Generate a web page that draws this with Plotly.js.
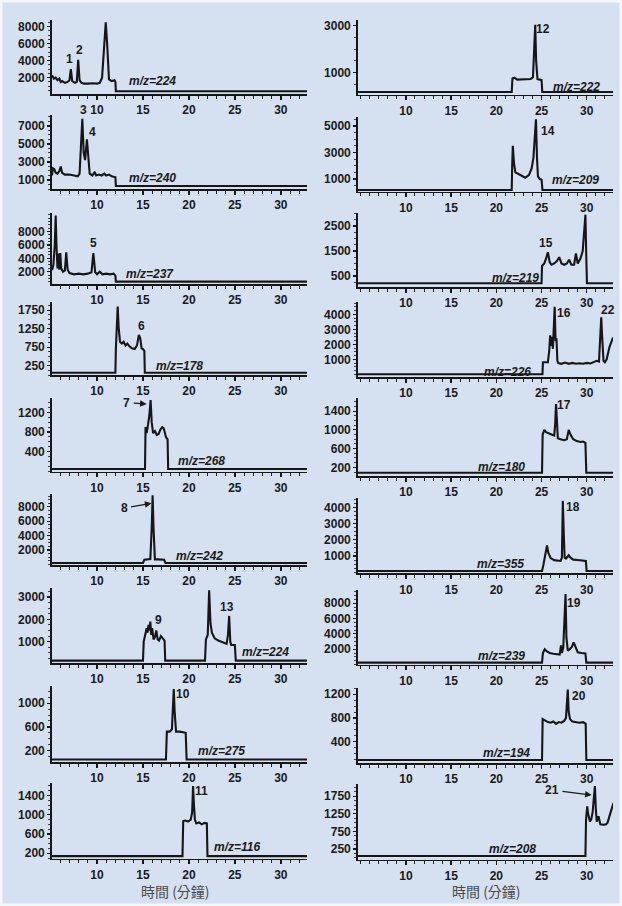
<!DOCTYPE html>
<html><head><meta charset="utf-8">
<script src="https://cdn.plot.ly/plotly-3.0.1.min.js"></script>
<style>html,body{margin:0;padding:0;background:#ffffff;} #chart{width:622px;height:906px;}</style>
</head><body><div id="chart"></div>
<script>
// ---------- data (retention time in minutes, abundance) ----------
const mzLabels = ["m/z=224","m/z=240","m/z=237","m/z=178","m/z=268","m/z=242","m/z=224","m/z=275","m/z=116",
                  "m/z=222","m/z=209","m/z=219","m/z=226","m/z=180","m/z=355","m/z=239","m/z=194","m/z=208"];
const xTickVals = [10,15,20,25,30];

const x_L1 = [5.1,5.3,5.5,5.7,5.9,6.05,6.2,6.5,6.8,7.0,7.15,7.3,7.6,7.8,7.95,8.1,8.3,8.6,9.0,9.5,10.0,10.3,10.55,10.8,10.95,11.1,11.3,11.6,11.9,12.0,12.05,32.85];
const y_L1 = [2300,1900,2000,1700,1900,1500,1600,1400,1500,1700,3000,1600,1400,1500,4100,1700,1400,1300,1300,1350,1300,1400,2000,5500,8500,6000,1800,1600,1700,1500,400,400];

const x_L2 = [5.1,5.2,5.35,5.5,5.7,5.9,6.05,6.2,6.5,7.0,7.5,7.9,8.1,8.25,8.4,8.55,8.7,8.9,9.05,9.2,9.5,9.75,9.9,10.2,10.5,10.8,11.0,11.3,11.6,12.0,12.05,32.85];
const y_L2 = [1500,2300,2200,1800,1700,2000,2500,1800,1600,1600,1500,1400,1700,5000,7800,4000,3200,5500,3500,1700,1500,1900,1500,1600,1500,1700,1500,1600,1400,1300,330,330];

const x_L3 = [5.1,5.25,5.4,5.5,5.6,5.7,5.8,5.9,6.0,6.1,6.3,6.5,6.65,6.8,7.0,7.5,8.0,8.5,9.0,9.4,9.6,9.8,10.0,10.3,10.6,11.0,11.4,11.8,12.0,12.05,32.85];
const y_L3 = [2200,3000,6000,10400,5500,2500,4700,2300,4800,2500,2000,2200,4900,2300,1800,1600,1700,1600,1700,1900,4800,1900,1600,2000,1600,1700,1600,1700,1400,500,500];

const x_L4 = [5.1,12.0,12.05,12.15,12.25,12.35,12.5,12.7,12.9,13.1,13.3,13.5,13.8,14.1,14.35,14.55,14.7,14.85,15.0,15.15,15.2,32.85];
const y_L4 = [60,60,700,1500,1850,1300,900,850,900,800,850,780,720,700,800,1080,1000,720,700,650,60,60];

const x_L5 = [5.1,15.22,15.28,15.4,15.55,15.7,15.83,15.95,16.1,16.3,16.5,16.7,16.9,17.1,17.25,17.5,17.68,17.74,32.85];
const y_L5 = [50,50,900,780,950,1150,1450,1000,780,820,740,760,850,900,880,700,650,50,50];

const x_L6 = [5.1,15.0,15.15,15.5,15.8,15.95,16.05,16.15,16.3,16.6,17.0,17.3,17.45,32.85];
const y_L6 = [200,200,650,700,750,5000,9600,5000,700,700,700,650,200,200];

const x_L7 = [5.1,15.0,15.08,15.25,15.4,15.5,15.6,15.7,15.8,15.9,16.0,16.15,16.3,16.45,16.6,16.75,16.95,17.15,17.35,17.42,21.75,21.85,22.05,22.2,22.35,22.5,22.8,23.2,23.7,24.1,24.25,24.38,24.5,24.6,25.0,25.1,32.85];
const y_L7 = [150,150,1000,1300,1600,1400,1750,1500,1900,1300,1600,1100,1200,1500,1100,1050,1250,1150,1050,150,150,1100,1300,3300,1800,1400,1150,1050,950,900,1300,2150,1000,850,850,150,150];

const x_L8 = [5.1,17.5,17.6,17.9,18.15,18.25,18.35,18.45,18.6,19.0,19.5,19.65,19.75,32.85];
const y_L8 = [50,50,520,520,560,900,1240,850,520,520,510,500,50,50];

const x_L9 = [5.1,19.3,19.38,19.6,19.9,20.2,20.35,20.45,20.55,20.65,20.8,21.1,21.4,21.7,21.95,22.02,32.85];
const y_L9 = [140,140,870,880,860,900,1050,1600,1200,900,820,840,800,830,820,140,140];

const x_R1 = [4.7,21.7,21.78,22.0,22.3,22.8,23.3,23.8,24.05,24.2,24.3,24.4,24.55,24.8,25.0,25.08,32.9];
const y_R1 = [170,170,750,780,700,720,710,730,800,2000,3050,1500,720,700,680,170,170];

const x_R2 = [4.7,21.7,21.75,21.82,21.95,22.1,22.4,22.8,23.2,23.6,23.9,24.1,24.25,24.38,24.5,24.6,24.8,25.0,25.1,32.9];
const y_R2 = [170,170,2000,3500,2200,1500,1400,1250,1100,1300,1800,2600,4500,5500,2500,1200,1000,950,170,170];

const x_R3 = [4.7,25.0,25.05,25.3,25.5,25.7,25.9,26.1,26.4,26.7,26.95,27.2,27.5,27.8,28.05,28.3,28.6,28.8,29.0,29.3,29.55,29.75,29.85,29.95,30.02,32.9];
const y_R3 = [210,210,900,1000,1200,1450,1050,950,1000,1100,1250,1000,950,1000,1150,950,950,1400,1000,1200,1500,2500,2950,1200,210,210];

const x_R4 = [4.7,25.1,25.15,25.4,25.7,25.85,25.95,26.05,26.15,26.25,26.35,26.45,26.55,26.65,26.75,26.85,27.2,27.6,28.0,28.4,28.8,29.2,29.6,30.0,30.4,30.8,31.1,31.35,31.5,31.6,31.7,31.85,32.0,32.2,32.5,32.75,32.9];
const y_R4 = [0,0,800,820,800,1600,2600,1900,2500,1700,3500,4500,2200,2400,900,750,700,780,700,760,700,740,700,760,720,800,900,850,2500,3800,2500,900,800,1000,1800,2300,2450];

const x_R5 = [4.7,25.05,25.12,25.3,25.5,25.8,26.1,26.4,26.5,26.6,26.68,26.8,27.1,27.5,27.8,28.0,28.2,28.5,28.9,29.3,29.6,29.85,29.95,32.9];
const y_R5 = [85,85,900,1000,950,920,900,880,1100,1550,1050,820,800,780,800,1000,900,800,760,740,750,720,85,85];

const x_R6 = [4.7,25.05,25.2,25.35,25.5,25.6,25.75,26.0,26.4,26.8,27.1,27.25,27.35,27.45,27.55,27.7,28.0,28.2,28.5,29.0,29.5,29.9,29.98,32.9];
const y_R6 = [80,80,450,900,1500,1650,1200,880,750,700,700,900,4400,2500,900,850,1050,900,780,760,740,700,80,80];

const x_R7 = [4.7,25.05,25.15,25.35,25.6,25.9,26.3,26.7,27.0,27.15,27.25,27.4,27.55,27.65,27.75,27.9,28.1,28.35,28.55,28.75,29.0,29.4,29.85,29.95,32.9];
const y_R7 = [250,250,1500,2000,1700,1500,1400,1350,1300,2500,1500,2200,6000,9200,3500,1800,2000,2300,2900,2200,1600,1500,1450,250,250];

const x_R8 = [4.7,25.05,25.12,25.4,25.7,26.0,26.3,26.6,26.9,27.2,27.5,27.7,27.8,27.9,28.0,28.15,28.4,28.8,29.2,29.6,29.88,29.95,32.9];
const y_R8 = [90,90,780,750,730,720,740,700,730,720,750,800,1000,1280,900,780,740,730,720,730,700,90,90];

const x_R9 = [4.7,29.85,29.92,30.05,30.15,30.35,30.5,30.65,30.78,30.9,31.0,31.1,31.3,31.5,31.8,32.1,32.3,32.5,32.7,32.95];
const y_R9 = [50,50,1100,1460,1250,1030,1100,1300,1700,2040,1400,1030,1180,950,940,950,1000,1150,1350,1560];

const yTicks = [[2000,4000,6000,8000],[1000,3000,5000,7000],[2000,4000,6000,8000],[250,750,1250,1750],[400,800,1200],
                [2000,4000,6000,8000],[1000,2000,3000],[200,600,1000],[200,600,1000,1400],
                [1000,3000],[1000,3000,5000],[500,1500,2500],[1000,2000,3000,4000],[200,600,1000,1400],
                [1000,2000,3000,4000],[2000,4000,6000,8000],[400,800,1200],[250,750,1250,1750]];

const peakLabels = ["1","2","3","4","5","6","7","8","9","13","10","11","12","14","15","16","22","17","18","19","20","21"];

// ---------- layout geometry (pixels) ----------
const W = 622, H = 906;
const series = [[x_L1,y_L1],[x_L2,y_L2],[x_L3,y_L3],[x_L4,y_L4],[x_L5,y_L5],[x_L6,y_L6],[x_L7,y_L7],[x_L8,y_L8],[x_L9,y_L9],
                [x_R1,y_R1],[x_R2,y_R2],[x_R3,y_R3],[x_R4,y_R4],[x_R5,y_R5],[x_R6,y_R6],[x_R7,y_R7],[x_R8,y_R8],[x_R9,y_R9]];
// [axisPx, topPx, lo, hi]
const geom = [[94,20,80,8785],[189,115,0,8214],[284,213.3,150,10750],[375,301.7,0,1980],[471.5,398,0,1490],
              [565,494.3,-80,9750],[663,588,45,3400],[762,686,8,1290],[858.5,783.3,90,1655],
              [94.5,20,64,3250],[191.5,116.7,60,5700],[287,212.7,60,3030],[377,301.7,-180,4840],[476,398,15,1680],
              [573.3,498.3,-60,4560],[664.5,590,0,9730],[763,687.7,40,1310],[859.5,784,-50,2100]];
const mzPos = [[152,81],[152,177.7],[150,274],[179,365.7],[201.7,460.7],[199.3,555.7],[265.7,651.7],[221.7,750.7],[237.3,847.3],
               [576.7,87.3],[575.3,180],[515,278.3],[507.7,371.7],[501.7,466.7],[500,564],[501.7,656],[506,753.3],[512.7,849]];
const peakPos = [[69,59],[79,50],[83,110],[92,131.7],[93.7,243.3],[141,326],[126.7,402.7],[124,508],[158,620],[226.7,607.3],
                 [182.7,694],[201,790.7],[543.3,29],[547.7,130.7],[546,243.3],[563.7,313.3],[607.7,310],[564.3,405],
                 [572.7,507.3],[574.3,603.3],[579.3,695.7],[552,790]];
// arrows: label index -> head px
const arrowHeads = {6:[146.7,404], 7:[151.5,503.3], 21:[591.7,795]};

const FONT = "Liberation Sans, Arial, sans-serif";
const ink = "#161616";
const px2x = p => p / W, py2y = p => 1 - p / H;

const data = [];
const layout = {
  width: W, height: H, margin: {l:0, r:0, t:0, b:0},
  paper_bgcolor: "#d5e0f1", plot_bgcolor: "rgba(0,0,0,0)", showlegend: false,
  annotations: [], shapes: [
    {type:"rect", xref:"paper", yref:"paper", x0:0, x1:1, y0:0, y1:1, line:{color:"#f4f7fb", width:5}}
  ]
};

series.forEach((s, i) => {
  const n = i + 1, sfx = n === 1 ? "" : String(n);
  const right = i >= 9;
  const g = geom[i];
  data.push({x: s[0], y: s[1], xaxis: "x" + sfx, yaxis: "y" + sfx, type: "scatter", mode: "lines",
             line: {color: ink, width: 2.1}, hoverinfo: "skip"});
  layout["xaxis" + sfx] = {
    domain: right ? [358 / W, 613 / W] : [52 / W, 307 / W],
    range: right ? [4.7, 32.9] : [5.1, 32.85],
    anchor: "y" + sfx, showgrid: false, zeroline: false,
    showline: true, linecolor: ink, linewidth: 1.8,
    ticks: "outside", ticklen: 4, tickwidth: 1.4, tickcolor: ink,
    tickmode: "array", tickvals: xTickVals, ticktext: xTickVals.map(String),
    minor: {tickmode: "linear", tick0: 0, dtick: 1, ticks: "outside", ticklen: 3, tickwidth: 1, tickcolor: ink},
    tickfont: {family: FONT, size: 12, color: "#1a1a1a", weight: "bold"}, fixedrange: true
  };
  const yt = yTicks[i];
  const step = yt.length > 1 ? (yt[1] - yt[0]) : 1000;
  layout["yaxis" + sfx] = {
    domain: [py2y(g[0]), py2y(g[1])], range: [g[2], g[3]],
    anchor: "x" + sfx, showgrid: false, zeroline: false,
    showline: true, linecolor: ink, linewidth: 1.8,
    ticks: "outside", ticklen: 3, tickwidth: 1.2, tickcolor: ink,
    tickmode: "array", tickvals: yt, ticktext: yt.map(String),
    minor: {tickmode: "linear", tick0: 0, dtick: step / 4, ticks: "outside", ticklen: 2, tickwidth: 0.8, tickcolor: ink},
    tickfont: {family: FONT, size: 12, color: "#1a1a1a", weight: "bold"}, fixedrange: true
  };
  layout.annotations.push({xref: "paper", yref: "paper", x: px2x(mzPos[i][0]), y: py2y(mzPos[i][1]),
    text: "<b><i>" + mzLabels[i] + "</i></b>", showarrow: false, xanchor: "center", yanchor: "middle",
    font: {family: FONT, size: 12, color: "#1a1a1a"}});
});

peakLabels.forEach((t, k) => {
  const p = peakPos[k];
  const a = {xref: "paper", yref: "paper", text: "<b>" + t + "</b>", xanchor: "center", yanchor: "middle",
             font: {family: FONT, size: 12, color: "#1a1a1a"}};
  if (arrowHeads[k]) {
    const h = arrowHeads[k];
    Object.assign(a, {x: px2x(h[0]), y: py2y(h[1]), showarrow: true, axref: "pixel", ayref: "pixel",
      ax: p[0] - h[0], ay: p[1] - h[1], arrowhead: 2, arrowsize: 1.1, arrowwidth: 1.2, arrowcolor: "#1a1a1a",
      standoff: 0, startstandoff: 2});
  } else {
    Object.assign(a, {x: px2x(p[0]), y: py2y(p[1]), showarrow: false});
  }
  layout.annotations.push(a);
});

[[175, 891], [486, 891]].forEach(p => layout.annotations.push({xref: "paper", yref: "paper",
  x: px2x(p[0]), y: py2y(p[1]), text: "時間 (分鐘)", showarrow: false, xanchor: "center", yanchor: "middle",
  font: {family: "Noto Sans CJK TC, Noto Sans CJK SC, sans-serif", size: 14, color: "#4a4a4a"}}));

Plotly.newPlot("chart", data, layout, {staticPlot: true, displayModeBar: false});
</script>
</body></html>
